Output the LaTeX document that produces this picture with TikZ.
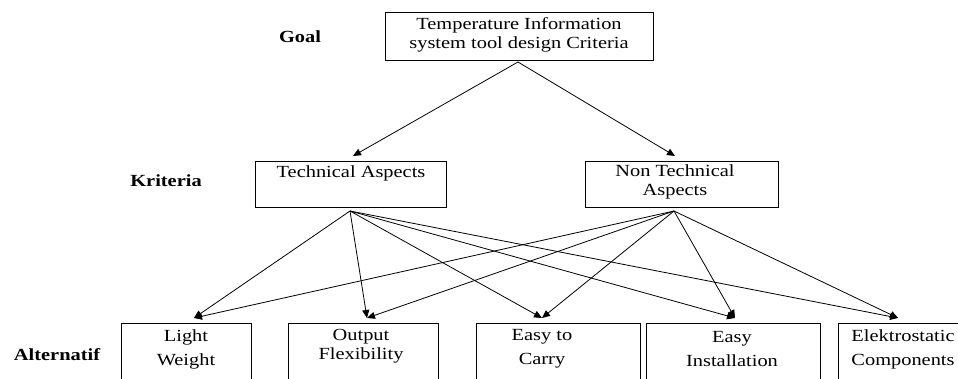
\documentclass[tikz,border=0pt]{standalone}
\usepackage{fontspec}
\setmainfont{Liberation Serif}[FakeStretch=1.2]
\usetikzlibrary{arrows.meta}
\begin{document}
\begin{tikzpicture}[x=1pt,y=-1pt,
  box/.style={draw, line width=0.9pt, inner sep=0pt, anchor=north west},
  txt/.style={inner sep=0pt, align=center, font=\fontsize{17}{19}\selectfont},
  lbl/.style={inner sep=0pt, font=\fontsize{17}{19}\selectfont\bfseries},
  arr/.style={line width=0.8pt, -{Triangle[length=8pt,width=7pt]}}]
\useasboundingbox (0,0) rectangle (958,379);
\clip (0,0) rectangle (958,379);

% level labels
\node[lbl] (lgoal) at (300,37) {Goal};
\node[lbl] (lkrit) at (166,181) {Kriteria};
\node[lbl] (lalt) at (57,355) {Alternatif};

% goal
\node[box, minimum width=268pt, minimum height=48pt] (goal) at (385,12) {};
\node[txt] (goaltxt) at (519,35) {Temperature Information\\system tool design Criteria};

% criteria
\node[box, minimum width=191pt, minimum height=46pt] (tech) at (255,161) {};
\node[txt] (techtxt) at (351,173) {Technical Aspects};
\node[box, minimum width=193pt, minimum height=46pt] (ntech) at (585,161) {};
\node[txt, font=\fontsize{17}{18.5}\selectfont] (ntechtxt) at (675,182) {Non Technical\\Aspects};

% alternatives
\node[box, minimum width=130pt, minimum height=70pt] (lw) at (121,323) {};
\node[txt, font=\fontsize{17}{24}\selectfont] (lwtxt) at (186,349) {Light\\Weight};
\node[box, minimum width=150pt, minimum height=70pt] (of) at (288,323) {};
\node[txt, font=\fontsize{17}{19}\selectfont] (oftxt) at (361,346) {Output\\Flexibility};
\node[box, minimum width=164pt, minimum height=70pt] (ec) at (476,323) {};
\node[txt, font=\fontsize{17}{24}\selectfont] (ectxt) at (542,349) {Easy to\\Carry};
\node[box, minimum width=174pt, minimum height=70pt] (ei) at (646,323) {};
\node[txt, font=\fontsize{17}{24}\selectfont] (eitxt) at (732,349) {Easy\\Installation};
\node[box, minimum width=132pt, minimum height=70pt] (ek) at (838,323) {};
\node[txt, font=\fontsize{17}{24}\selectfont] (ektxt) at (903,349) {Elektrostatic\\Components};

% connector ends
\coordinate (goalS) at (518,62);
\coordinate (techN) at (353,156);
\coordinate (ntechN) at (675,156);
\coordinate (techS) at (350,211);
\coordinate (ntechS) at (674,211);
\coordinate (lwN) at (194,318);
\coordinate (ofN) at (367,318);
\coordinate (ecN) at (542,318);
\coordinate (eiN) at (735,318);
\coordinate (ekN) at (898,318);

\draw[arr] (goalS) -- (techN);
\draw[arr] (goalS) -- (ntechN);
\foreach \t in {lwN,ofN,ecN,eiN,ekN}{
  \draw[arr] (techS) -- (\t);
  \draw[arr] (ntechS) -- (\t);
}
\end{tikzpicture}
\end{document}
